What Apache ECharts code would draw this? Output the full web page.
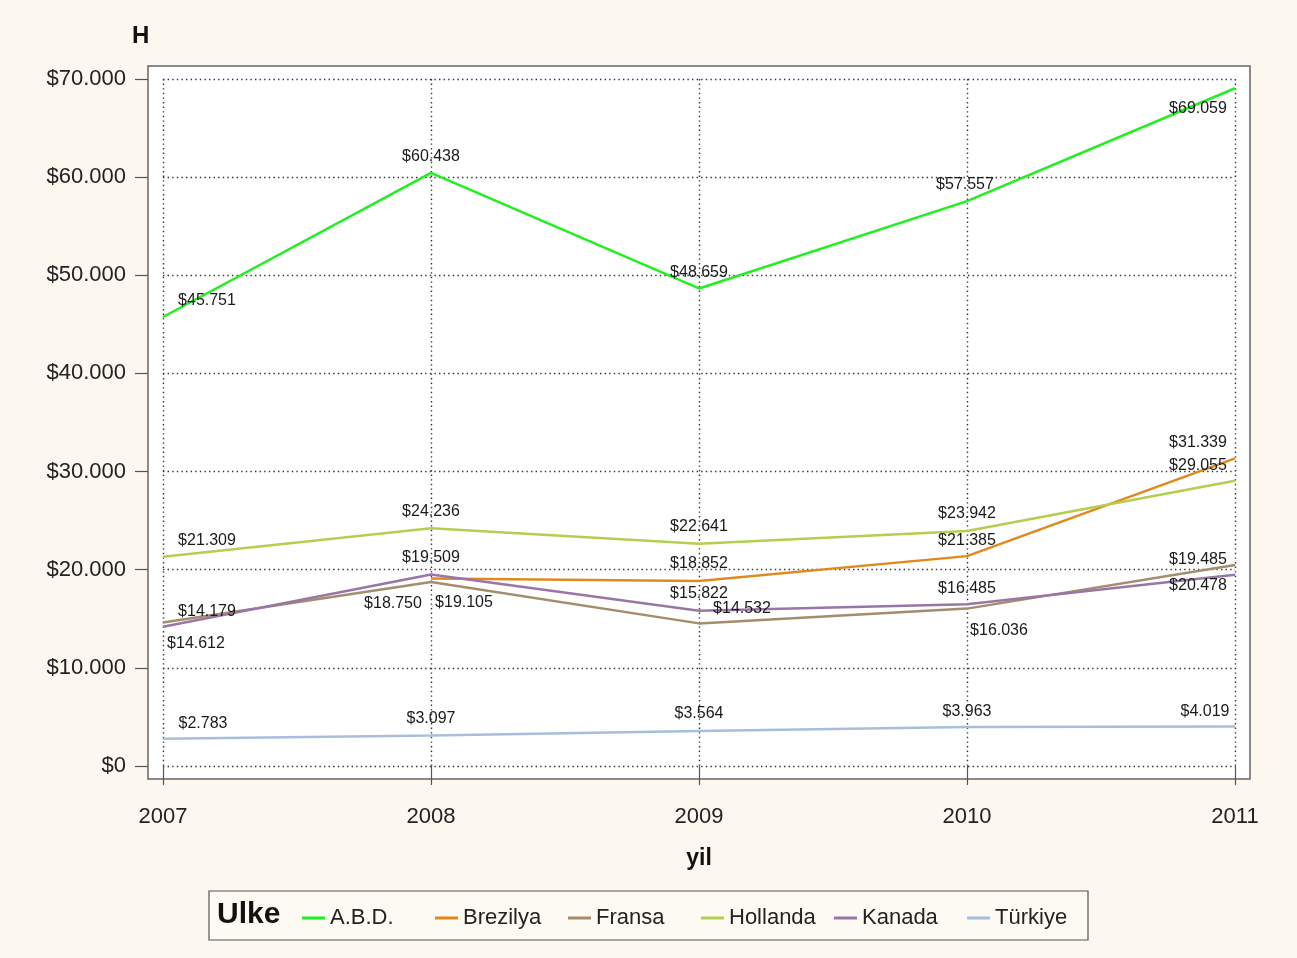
<!DOCTYPE html>
<html>
<head>
<meta charset="utf-8">
<script src="https://cdn.jsdelivr.net/npm/echarts@6/dist/echarts.min.js"></script>
<style>
  html, body { margin: 0; padding: 0; background: #fcf8f0; }
  #chart { width: 1297px; height: 958px; }
</style>
</head>
<body>
<div id="chart"></div>
<script>
// years on the x axis
const years = ['2007', '2008', '2009', '2010', '2011']

// values per country (Brezilya has no 2007 point)
const countries = ['A.B.D.', 'Brezilya', 'Fransa', 'Hollanda', 'Kanada', 'Türkiye']
const abd = [45751, 60438, 48659, 57557, 69059]
const brezilya = [null, 19105, 18852, 21385, 31339]
const fransa = [14612, 18750, 14532, 16036, 20478]
const hollanda = [21309, 24236, 22641, 23942, 29055]
const kanada = [14179, 19509, 15822, 16485, 19485]
const turkiye = [2783, 3097, 3564, 3963, 4019]

// y axis range
const yMin = 0
const yMax = 70000
const yStep = 10000

// where each value label sits relative to its point (px)
const abdLabelShift = [[44, -16], [0, -16], [0, -16], [-2, -17], [-37, 20]]
const brezilyaLabelShift = [null, [33, 24], [0, -17], [0, -16], [-37, -16]]
const fransaLabelShift = [[33, 21], [-38, 22], [43, -15], [32, 22], [-37, 21]]
const hollandaLabelShift = [[44, -16], [0, -17], [0, -17], [0, -17], [-37, -15]]
const kanadaLabelShift = [[44, -15], [0, -17], [0, -17], [0, -16], [-37, -15]]
const turkiyeLabelShift = [[40, -15], [0, -17], [0, -17], [0, -16], [-30, -15]]

const FONT = '"Liberation Sans", Arial, sans-serif'
const GRID_LINE = { color: '#333', width: 1.4, type: [1.4, 3.2] }

function money(v) {
  return '$' + String(Math.round(v)).replace(/\B(?=(\d{3})+(?!\d))/g, '.')
}

function makeSeries(name, values, shifts, color) {
  return {
    name,
    type: 'line',
    data: values.map((v, i) => v == null ? null : {
      value: v,
      label: { offset: shifts[i] },
    }),
    symbol: 'circle',
    symbolSize: 1,
    showSymbol: true,
    lineStyle: { color, width: 2.5 },
    itemStyle: { color },
    label: {
      show: true,
      position: 'inside',
      color: '#1a1a1a',
      fontFamily: FONT,
      fontSize: 16,
      formatter: p => money(p.value),
    },
    emphasis: { disabled: true },
  }
}

// legend laid out in equal columns, one legend per entry
const legendLeft = 297
const legendColumn = 133
const legends = countries.map((name, i) => ({
  left: legendLeft + i * legendColumn,
  top: 902,
  icon: 'rect',
  itemWidth: 23,
  itemHeight: 3,
  textStyle: { fontFamily: FONT, fontSize: 22, color: '#222' },
  data: [name],
}))

const chart = echarts.init(document.getElementById('chart'), null, { renderer: 'canvas' })

chart.setOption({
  animation: false,
  backgroundColor: '#fcf8f0',
  title: {
    text: 'H',
    left: 127,
    top: 19,
    textStyle: { fontFamily: FONT, fontSize: 24, fontWeight: 'bold', color: '#111' },
  },
  grid: { left: 163, right: 62, top: 79, bottom: 192 },
  xAxis: {
    type: 'category',
    data: years,
    boundaryGap: false,
    offset: 13,
    name: 'yil',
    nameLocation: 'middle',
    nameGap: 68,
    nameTextStyle: { fontFamily: FONT, fontSize: 23, fontWeight: 'bold', color: '#111' },
    axisLine: { show: false },
    axisTick: { show: true, length: 19, lineStyle: { color: '#555', width: 1.2 } },
    axisLabel: { margin: 27, fontFamily: FONT, fontSize: 22, color: '#222' },
    splitLine: { show: true, lineStyle: GRID_LINE },
  },
  yAxis: {
    type: 'value',
    min: yMin,
    max: yMax,
    interval: yStep,
    offset: 15,
    axisLine: { show: false },
    axisTick: { show: true, length: 13, lineStyle: { color: '#555', width: 1.2 } },
    axisLabel: { margin: 22, fontFamily: FONT, fontSize: 22, color: '#222', formatter: v => money(v) },
    splitLine: { show: true, lineStyle: GRID_LINE },
  },
  legend: legends,
  graphic: [
    {
      type: 'rect',
      z: -5,
      shape: { x: 148, y: 66, width: 1102, height: 713 },
      style: { fill: '#ffffff', stroke: '#666', lineWidth: 1.5 },
    },
    {
      type: 'rect',
      z: -5,
      shape: { x: 209, y: 891, width: 879, height: 49 },
      style: { fill: '#fdfaf3', stroke: '#555', lineWidth: 1.2 },
    },
    {
      type: 'text',
      left: 217,
      top: 900,
      style: { text: 'Ulke', fontFamily: FONT, fontSize: 30, fontWeight: 'bold', fill: '#111' },
    },
  ],
  series: [
    makeSeries(countries[0], abd, abdLabelShift, '#20f020'),
    makeSeries(countries[1], brezilya, brezilyaLabelShift, '#e0891c'),
    makeSeries(countries[2], fransa, fransaLabelShift, '#a38d6d'),
    makeSeries(countries[3], hollanda, hollandaLabelShift, '#b2cf4f'),
    makeSeries(countries[4], kanada, kanadaLabelShift, '#9a76a6'),
    makeSeries(countries[5], turkiye, turkiyeLabelShift, '#a7bfdc'),
  ],
})
</script>
</body>
</html>
